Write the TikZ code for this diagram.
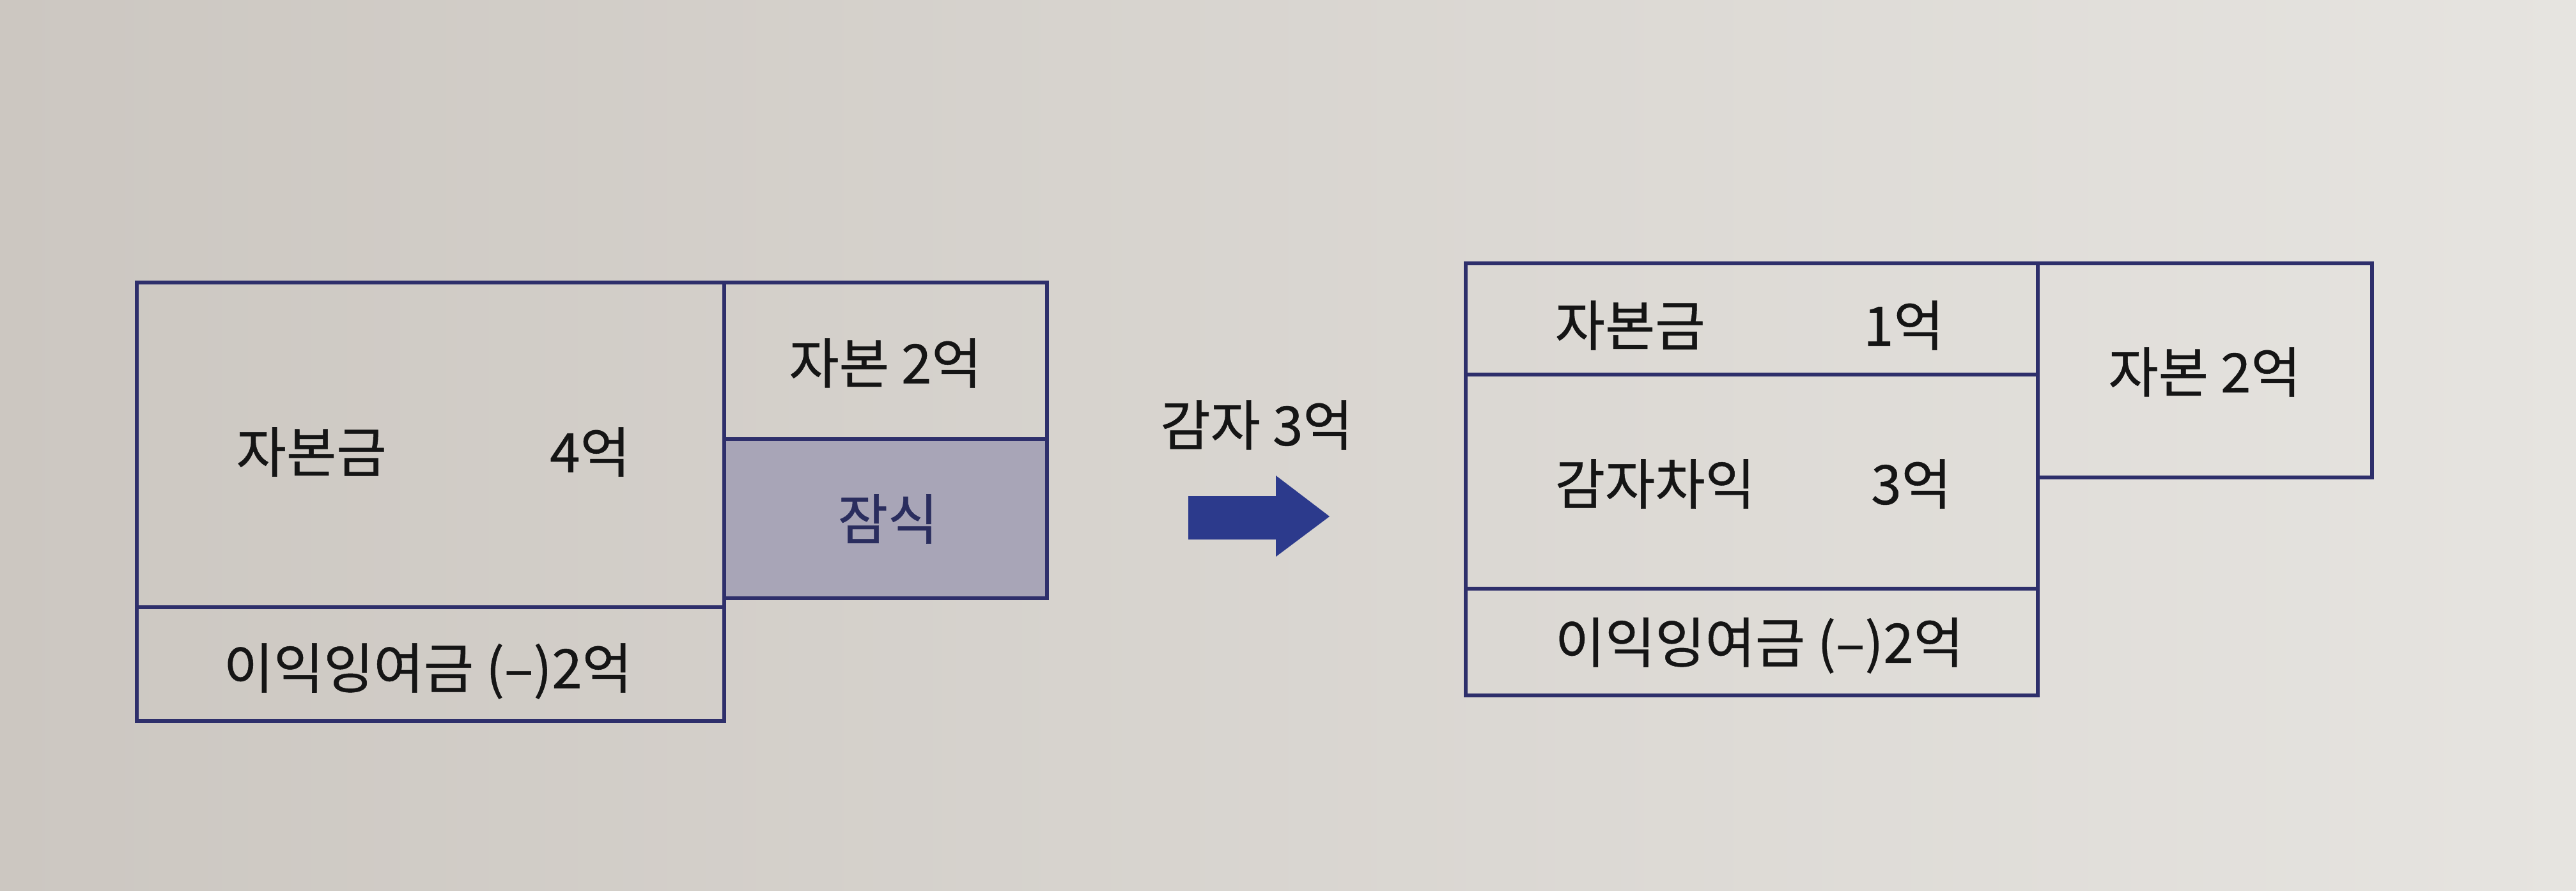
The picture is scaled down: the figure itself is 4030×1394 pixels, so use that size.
\documentclass[tikz,border=0pt]{standalone}
\usepackage{fontspec}
\newfontfamily\kr[FakeBold=0.6]{Noto Sans CJK KR}
\definecolor{paperL}{HTML}{CCC7C1}
\definecolor{paperR}{HTML}{E6E4E0}
\definecolor{navy}{HTML}{2E2F6B}
\definecolor{arrowblue}{HTML}{2C3A8C}
\definecolor{lossfill}{HTML}{A8A5B7}
\definecolor{ink}{HTML}{151515}
\definecolor{lossink}{HTML}{2A2D5E}
\tikzset{
  cell/.style={draw=navy, line width=0.065cm},
  lbl/.style={font=\kr\fontsize{24.2pt}{28pt}\selectfont, text=ink, inner sep=0pt},
}
\begin{document}
\begin{tikzpicture}[x=0.01cm,y=-0.01cm]
% background paper
\shade[left color=paperL, right color=paperR] (0,0) rectangle (4030,1394);
\useasboundingbox (0,0) rectangle (4030,1394);

% ---------- left diagram ----------
\fill[lossfill] (1133,687) rectangle (1638,936);
\draw[cell] (214,442) rectangle (1133,1128);
\draw[cell] (214,950) -- (1133,950);
\draw[cell] (1133,442) rectangle (1638,936);
\draw[cell] (1133,687) -- (1638,687);

\node[lbl, anchor=west] (capL) at (369,707) {자본금};
\node[lbl] (capLval) at (923,707) {4억};
\node[lbl] (surplusL) at (1385,568) {자본 2억};
\node[lbl, text=lossink] (loss) at (1389,812) {잠식};
\node[lbl, anchor=west] (reL) at (349,1050) {이익잉여금 (–)2억};

% ---------- arrow ----------
\node[lbl] (red) at (1966,665) {감자 3억};
\fill[arrowblue] (1859,776) -- (1996,776) -- (1996,744) -- (2080,808)
  -- (1996,871) -- (1996,844) -- (1859,844) -- cycle;

% ---------- right diagram ----------
\draw[cell] (2293,412) rectangle (3188,1088);
\draw[cell] (2293,586) -- (3188,586);
\draw[cell] (2293,921) -- (3188,921);
\draw[cell] (3188,412) rectangle (3711,747);

\node[lbl, anchor=west] (capR) at (2432,509) {자본금};
\node[lbl] (capRval) at (2978,509) {1억};
\node[lbl, anchor=west] (gain) at (2432,757) {감자차익};
\node[lbl] (gainval) at (2990,757) {3억};
\node[lbl, anchor=west] (reR) at (2432,1010) {이익잉여금 (–)2억};
\node[lbl] (surplusR) at (3449,582) {자본 2억};
\end{tikzpicture}
\end{document}
